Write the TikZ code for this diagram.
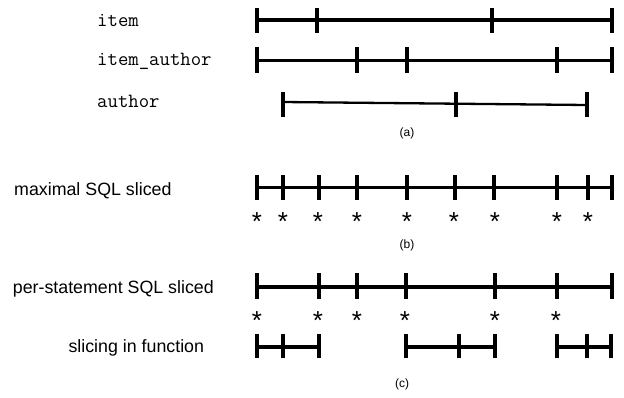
\documentclass[tikz,border=0pt]{standalone}
\usepackage{fontspec}
\setmainfont{Liberation Sans}
\begin{document}
\begin{tikzpicture}[x=1pt,y=-1pt,
  bar/.style={line width=3.1pt},
  thinbar/.style={line width=2.3pt},
  tk/.style={line width=3.3pt},
  monolab/.style={font=\ttfamily\fontsize{20.2}{22}\selectfont, anchor=base west, inner sep=0pt},
  sanslab/.style={font=\fontsize{17.8}{20}\selectfont, anchor=base west, inner sep=0pt},
  caplab/.style={font=\fontsize{12}{14}\selectfont, anchor=center, inner sep=0pt},
  st/.style={font=\fontsize{26}{28}\selectfont, anchor=base, inner sep=0pt}]
\useasboundingbox (0,0) rectangle (624,397);

% (a)
\node[monolab] (litem) at (97,26) {item};
\node[monolab] (litemauthor) at (97,65) {item\_author};
\node[monolab] (lauthor) at (97,107) {author};

\draw[bar] (257,20) -- (612,20);
\foreach \x in {257,317,492,612} \draw[tk] (\x,8) -- (\x,33);

\draw[bar] (257,60.5) -- (612,60.5);
\foreach \x in {257,357,407,557,612} \draw[tk] (\x,47) -- (\x,73);

\draw[thinbar] (283,102) -- (587,105);
\foreach \x in {283,456,587} \draw[tk] (\x,92) -- (\x,117);

\node[caplab] (capa) at (407,133) {(a)};

% (b)
\node[sanslab] (lmax) at (14,195) {maximal SQL sliced};
\draw[bar] (257,187.5) -- (612,187.5);
\foreach \x in {257,283,319,357,407,455,494,557,588,612} \draw[tk] (\x,175) -- (\x,200);
\foreach \x [count=\i] in {257,283,318,357,407,454,495,557,588}
  \node[st] (sb\i) at (\x,230.8) {*};
\node[caplab] (capb) at (407,245) {(b)};

% (c)
\node[sanslab] (lper) at (12.7,293.3) {per-statement SQL sliced};
\draw[bar] (257,287) -- (612,287);
\foreach \x in {257,319,357,406,495,557,612} \draw[tk] (\x,273) -- (\x,299);
\foreach \x [count=\i] in {257,318,357,405,495,556}
  \node[st] (sc\i) at (\x,329.8) {*};

\node[sanslab] (lslice) at (68.3,352.7) {slicing in function};
\draw[bar] (257,347) -- (319,347);
\foreach \x in {257,283,319} \draw[tk] (\x,334) -- (\x,358);
\draw[bar] (406,347) -- (495,347);
\foreach \x in {406,459,495} \draw[tk] (\x,334) -- (\x,358);
\draw[bar] (557,347) -- (611,347);
\foreach \x in {557,587,611} \draw[tk] (\x,334) -- (\x,358);

\node[caplab] (capc) at (402,384) {(c)};
\end{tikzpicture}
\end{document}
